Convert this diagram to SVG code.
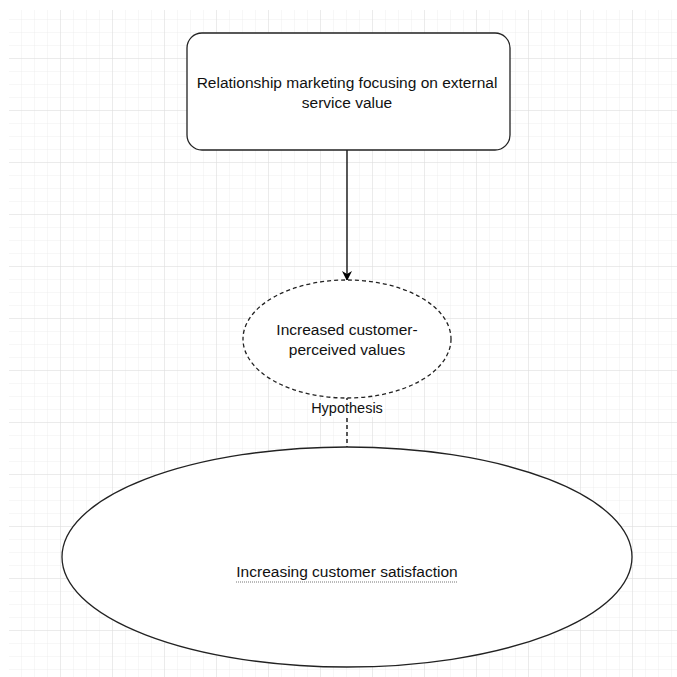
<svg xmlns="http://www.w3.org/2000/svg" width="677" height="677" viewBox="0 0 677 677">
<defs>
<pattern id="minor" x="9" y="7" width="13" height="13" patternUnits="userSpaceOnUse">
<path d="M13 0 V13 M0 13 H13" fill="none" stroke="#eeeeee" stroke-width="1"/>
</pattern>
<pattern id="major" x="9" y="7" width="52" height="52" patternUnits="userSpaceOnUse">
<path d="M52 0 V52 M0 52 H52" fill="none" stroke="#dedede" stroke-width="1"/>
</pattern>
<marker id="arrow" viewBox="0 0 10 10" refX="9" refY="5" markerWidth="10" markerHeight="10" markerUnits="userSpaceOnUse" orient="auto">
<path d="M0 0 L10 5 L0 10 L3 5 Z" fill="#000"/>
</marker>
<style>
.lbl{font-family:"Liberation Sans",Arial,sans-serif;font-size:15.5px;fill:#111;text-anchor:middle}
.small{font-size:14.5px}
.shape{fill:#fff;stroke:#222;stroke-width:1.3}
</style>
</defs>
<rect width="677" height="677" fill="#fff"/>
<rect x="9" y="10" width="668" height="667" fill="url(#minor)"/>
<rect x="9" y="10" width="668" height="667" fill="url(#major)"/>
<g id="connectors">
<line x1="347" y1="150" x2="347" y2="280" stroke="#000" stroke-width="1.3" marker-end="url(#arrow)"/>
<line x1="347" y1="397" x2="347" y2="447" stroke="#000" stroke-width="1.3" stroke-dasharray="4 3"/>
<rect x="310" y="400" width="74" height="17" fill="#fff"/>
<text class="lbl small" x="347" y="413">Hypothesis</text>
</g>
<g id="node-relationship">
<rect class="shape" x="187" y="33" width="323" height="117" rx="15" ry="15"/>
<text class="lbl" x="347" y="88">Relationship marketing focusing on external</text>
<text class="lbl" x="347" y="108">service value</text>
</g>
<g id="node-perceived">
<ellipse class="shape" cx="347" cy="339" rx="104" ry="59" stroke-dasharray="4 3"/>
<text class="lbl" x="347" y="335">Increased customer-</text>
<text class="lbl" x="347" y="355">perceived values</text>
</g>
<g id="node-satisfaction">
<ellipse class="shape" cx="347" cy="557" rx="285" ry="110"/>
<text class="lbl" x="347" y="577">Increasing customer satisfaction</text>
<line x1="236" y1="582" x2="458" y2="582" stroke="#777" stroke-width="1" stroke-dasharray="1 1"/>
</g>
</svg>
